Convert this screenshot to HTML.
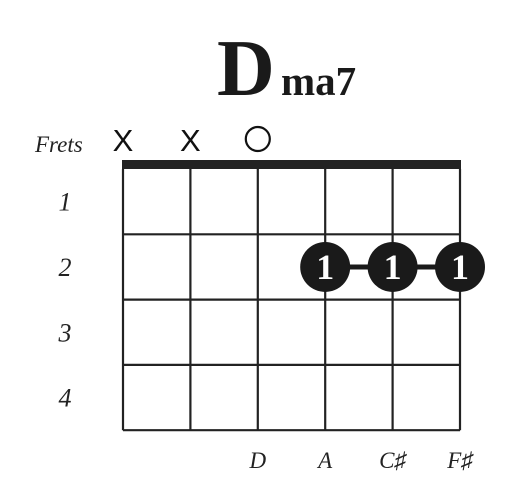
<!DOCTYPE html>
<html><head><meta charset="utf-8"><style>
html,body{margin:0;padding:0;background:#fff;width:520px;height:504px;overflow:hidden}
</style></head><body>
<svg width="520" height="504" viewBox="0 0 520 504">
<g font-family="Liberation Serif, serif" font-weight="bold" fill="#1a1a1a">
<text x="217" y="95" font-size="80">D</text>
<text x="281" y="95" font-size="41">ma7</text>
</g>
<g id="g"></g>
</svg>
<script>
const strings=['E','A','D','G','B','E'];
const stringLabels=['','','D','A','C♯','F♯'];
const openMuted=['x','x','o','','',''];
const frets=['1','2','3','4'];
const dotStrings=[3,4,5];
const dotFrets=[2,2,2];
const dotFingers=['1','1','1'];
const NS='http://www.w3.org/2000/svg';
const g=document.getElementById('g');
const x0=123,x1=460,yTop=169,fh=65.3;
const sx=i=>x0+i*(x1-x0)/(strings.length-1);
const fy=f=>yTop+f*fh;
function el(t,a,p){const e=document.createElementNS(NS,t);for(const k in a)e.setAttribute(k,a[k]);(p||g).appendChild(e);return e;}
strings.forEach((s,i)=>{const l=el('line',{x1:sx(i),x2:sx(i),y1:yTop,y2:fy(frets.length),stroke:'#222','stroke-width':2.2});

});
frets.forEach((f,i)=>{const l=el('line',{x1:x0,x2:x1,y1:fy(i+1),y2:fy(i+1),stroke:'#222','stroke-width':2.2});


const t=el('text',{x:65,y:(fy(i)+fy(i+1))/2+9,'font-family':'Liberation Serif, serif','font-style':'italic','font-size':26,'text-anchor':'middle',fill:'#222'});
t.textContent=f;

});
const nut=el('rect',{x:x0-1,y:160,width:x1-x0+2,height:9,fill:'#222'});


const fl=el('text',{x:35,y:152,'font-family':'Liberation Serif, serif','font-style':'italic','font-size':23,fill:'#222'});
fl.textContent='Frets';


openMuted.forEach((m,i)=>{if(m==='x'){const t=el('text',{x:sx(i),y:151,'font-family':'Liberation Sans, sans-serif','font-size':31,'text-anchor':'middle',fill:'#111'});t.textContent='X';

}
else if(m==='o'){const c=el('circle',{cx:sx(i),cy:139,r:12,fill:'none',stroke:'#111','stroke-width':2.2});

}});
const bar=el('line',{x1:sx(dotStrings[0]),x2:sx(dotStrings[dotStrings.length-1]),y1:fy(dotFrets[0]-0.5),y2:fy(dotFrets[0]-0.5),stroke:'#1a1a1a','stroke-width':5});


dotStrings.forEach((s,i)=>{const cy=fy(dotFrets[i]-0.5);
const c=el('circle',{cx:sx(s),cy:cy,r:25,fill:'#1a1a1a'});


const t=el('text',{x:sx(s),y:cy+12,'font-family':'Liberation Serif, serif','font-weight':'bold','font-size':36,'text-anchor':'middle',fill:'#fff'});
t.textContent=dotFingers[i];

});
stringLabels.forEach((s,i)=>{if(!s)return;const t=el('text',{x:sx(i),y:468,'font-family':'Liberation Serif, serif','font-style':'italic','font-size':23,'text-anchor':'middle',fill:'#222'});
t.textContent=s;

});
</script>
</body></html>
